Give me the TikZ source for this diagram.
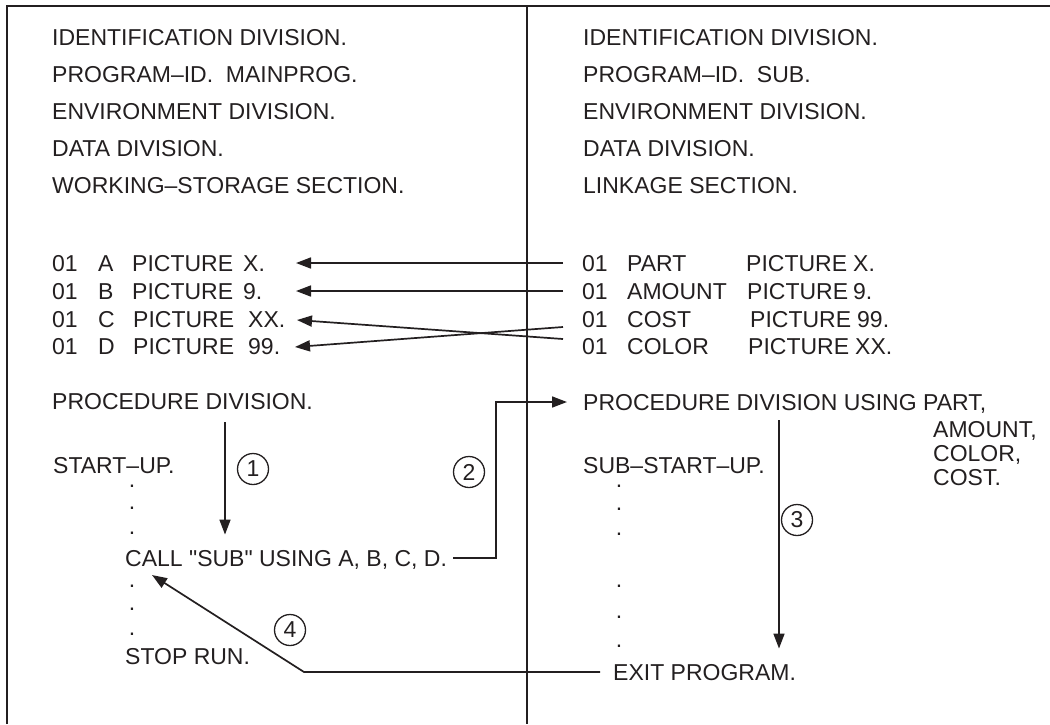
\documentclass[tikz,border=0pt]{standalone}
\usepackage{fontspec}
\setmainfont{Liberation Sans}[Ligatures=TeXOff]
\usetikzlibrary{arrows.meta,calc}
\definecolor{ink}{RGB}{35,31,32}
\begin{document}
\begin{tikzpicture}[x=1pt,y=-1pt,
  txt/.style={anchor=west,inner sep=0pt,text height=16.5pt,text depth=0pt,font=\fontsize{23}{27}\selectfont,text=ink},
  dotn/.style={anchor=base,inner sep=0pt,text height=3pt,text depth=0pt,font=\fontsize{23}{27}\selectfont,text=ink},
  framel/.style={line width=2.2pt,draw=ink,line join=miter},
  divider/.style={line width=1.6pt,draw=ink},
  conn/.style={line width=1.7pt,draw=ink},
  arr/.style={conn,-{Triangle[length=15pt,width=11pt]}},
  num/.style={circle,draw=ink,line width=1.3pt,inner sep=0pt,minimum size=31pt,font=\fontsize{23}{26}\selectfont,text=ink}
]
\useasboundingbox (0,0) rectangle (1050,724);
\draw[framel] (7,724) -- (7,6) -- (1050,6);
\draw[divider] (527,6) -- (527,724);

% left column
\node[txt] (idL) at (52,37) {IDENTIFICATION DIVISION.};
\node[txt] (pidL) at (52,74) {PROGRAM–ID.\ \ MAINPROG.};
\node[txt] (envL) at (52,111) {ENVIRONMENT DIVISION.};
\node[txt] (dataL) at (52,148) {DATA DIVISION.};
\node[txt] (wsL) at (52,185) {WORKING–STORAGE SECTION.};
\node[txt] (rA) at (52,263) {\makebox[46pt][l]{01}\makebox[34pt][l]{A}\makebox[111pt][l]{PICTURE}X.};
\node[txt] (rB) at (52,291) {\makebox[46pt][l]{01}\makebox[34pt][l]{B}\makebox[111pt][l]{PICTURE}9.};
\node[txt] (rC) at (52,319) {\makebox[46pt][l]{01}\makebox[35pt][l]{C}\makebox[115pt][l]{PICTURE}XX.};
\node[txt] (rD) at (52,346) {\makebox[46pt][l]{01}\makebox[35pt][l]{D}\makebox[115pt][l]{PICTURE}99.};
\node[txt] (procL) at (52,401) {PROCEDURE DIVISION.};
\node[txt] (startL) at (53,465) {START–UP.};
\node[dotn] (dl1) at (132,487) {.};
\node[dotn] (dl2) at (132,509.5) {.};
\node[dotn] (dl3) at (132,534.5) {.};
\node[txt] (call) at (125,558) {CALL "SUB" USING A, B, C, D.};
\node[dotn] (dl4) at (132,587) {.};
\node[dotn] (dl5) at (132,610.5) {.};
\node[dotn] (dl6) at (132,635) {.};
\node[txt] (stop) at (125,656) {STOP RUN.};

% right column
\node[txt] (idR) at (583,37) {IDENTIFICATION DIVISION.};
\node[txt] (pidR) at (583,74) {PROGRAM–ID.\ \ SUB.};
\node[txt] (envR) at (583,111) {ENVIRONMENT DIVISION.};
\node[txt] (dataR) at (583,148) {DATA DIVISION.};
\node[txt] (linkR) at (583,185) {LINKAGE SECTION.};
\node[txt] (rPART) at (582,263) {\makebox[45pt][l]{01}\makebox[119pt][l]{PART}\makebox[107pt][l]{PICTURE}X.};
\node[txt] (rAMOUNT) at (582,291) {\makebox[45pt][l]{01}\makebox[120pt][l]{AMOUNT}\makebox[106pt][l]{PICTURE}9.};
\node[txt] (rCOST) at (582,319) {\makebox[45pt][l]{01}\makebox[123pt][l]{COST}\makebox[107pt][l]{PICTURE}99.};
\node[txt] (rCOLOR) at (582,346) {\makebox[45pt][l]{01}\makebox[121pt][l]{COLOR}\makebox[107pt][l]{PICTURE}XX.};
\node[txt] (procR) at (583,402) {PROCEDURE DIVISION USING PART,};
\node[txt] (amt) at (933,429) {AMOUNT,};
\node[txt] (col) at (933,453) {COLOR,};
\node[txt] (cst) at (933,477) {COST.};
\node[txt] (subst) at (583,465) {SUB–START–UP.};
\node[dotn] (dr1) at (619,487) {.};
\node[dotn] (dr2) at (619,510) {.};
\node[dotn] (dr3) at (619,535.5) {.};
\node[dotn] (dr4) at (619,587.5) {.};
\node[dotn] (dr5) at (619,618.5) {.};
\node[dotn] (dr6) at (619,647.5) {.};
\node[txt] (exit) at (613,672) {EXIT PROGRAM.};

% circled numbers
\node[num] (n1) at (253,469) {1};
\node[num] (n2) at (469,472) {2};
\node[num] (n3) at (797,520) {3};
\node[num] (n4) at (290,630) {4};

% helper coordinates
\coordinate (tipA) at (296,263);
\coordinate (tipB) at (296,291);
\coordinate (tipC) at (297,320);
\coordinate (tipD) at (295,347);
\coordinate (x1) at (225,0);
\coordinate (c2) at (496,402);
\coordinate (x3) at (779,0);
\coordinate (c4) at (304,672);

% data connectors
\draw[arr] ([xshift=-19pt]rPART.west) -- (tipA);
\draw[arr] ([xshift=-19pt]rAMOUNT.west) -- (tipB);
\draw[arr] ([shift={(-19,-7)}]rCOLOR.west) -- (tipC);
\draw[arr] ([shift={(-19,8)}]rCOST.west) -- (tipD);

% flow connectors
\draw[arr] ($(procL.south -| x1)+(0,13)$) -- ($(call.north -| x1)+(0,-15)$);
\draw[arr] ([xshift=6pt]call.east) -| (c2) -- ([xshift=-16pt]procR.west);
\draw[arr] ($(procR.south -| x3)+(0,10)$) -- ($(exit.north -| x3)+(0,-15)$);
\draw[arr] ([xshift=-13pt]exit.west) -- (c4) -- ([shift={(27,17)}]call.west);
\end{tikzpicture}
\end{document}
